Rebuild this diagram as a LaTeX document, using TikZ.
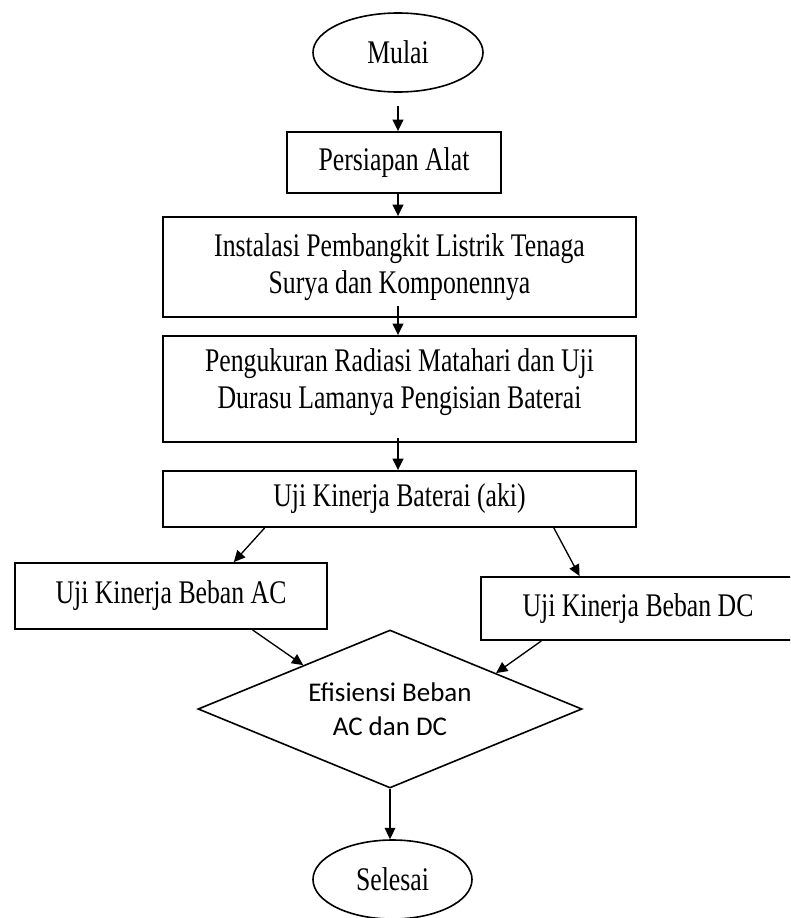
\documentclass[tikz,border=0pt]{standalone}
\usepackage{fontspec}
\setmainfont[FakeStretch=0.78]{Liberation Serif}
\newfontfamily\calfont{Carlito}
\usetikzlibrary{calc}
\usetikzlibrary{arrows.meta}
\usetikzlibrary{shapes.geometric}

\tikzset{
  kotak/.style={draw, line width=1.4pt, rectangle, inner sep=0pt, align=center,
    font=\fontsize{24.75}{27.75}\selectfont},
  oval/.style={draw, line width=1.2pt, ellipse, inner sep=0pt,
    font=\fontsize{24.75}{27.75}\selectfont},
  belah/.style={draw, line width=1.2pt, diamond, inner sep=0pt, aspect=2.43, align=center,
    font=\calfont\fontsize{20.25}{25.5}\selectfont},
  panah/.style={-{Triangle[length=8.5pt,width=8pt]}, line width=1pt},
}

\begin{document}
\begin{tikzpicture}[x=0.75pt,y=-0.75pt]
            \clip (0,0) rectangle (790,918);
            % langkah-langkah
            \node[oval, minimum width=127.5pt, minimum height=59.25pt] (mulai) at (398,52.5) {Mulai};
            \node[kotak, minimum width=160.5pt, minimum height=45.75pt] (persiapan) at (394,162.5) {Persiapan Alat};
            \node[kotak, minimum width=354.75pt, minimum height=75pt] (instalasi) at (399.5,267) {Instalasi Pembangkit Listrik Tenaga\\Surya dan Komponennya};
            \node[kotak, minimum width=354.75pt, minimum height=79.5pt, text depth=16pt] (pengukuran) at (399.5,389) {Pengukuran Radiasi Matahari dan Uji\\Durasu Lamanya Pengisian Baterai};
            \node[kotak, minimum width=354.75pt, minimum height=42pt] (baterai) at (399.5,499) {Uji Kinerja Baterai (aki)};
            \node[kotak, minimum width=234pt, minimum height=49.5pt] (ac) at (171,596) {Uji Kinerja Beban AC};
            \node[kotak, minimum width=235.5pt, minimum height=47.25pt] (dc) at (638,608.5) {Uji Kinerja Beban DC};
            \node[belah, minimum width=288pt, minimum height=118.5pt] (efisiensi) at (390,709) {Efisiensi Beban\\AC dan DC};
            \node[oval, minimum width=119.25pt, minimum height=59.25pt] (selesai) at (392.5,879.5) {Selesai};
            % panah
            \draw[panah, shorten <=9.75pt] (mulai.south) -- (mulai.south |- persiapan.north);
            \draw[panah] (persiapan.south -| mulai.south) -- (instalasi.north -| mulai.south);
            \draw[panah, shorten <=-9pt] (instalasi.south -| mulai.south) -- (pengukuran.north -| mulai.south);
            \draw[panah, shorten <=-3.75pt] (pengukuran.south -| mulai.south) -- (baterai.north -| mulai.south);
            \draw[panah] ($(baterai.south west)!0.216!(baterai.south east)$) -- ($(ac.north west)!0.70!(ac.north east)$);
            \draw[panah] ($(baterai.south west)!0.825!(baterai.south east)$) -- ($(dc.north west)!0.315!(dc.north east)$);
            \draw[panah] ($(ac.south west)!0.76!(ac.south east)$) -- ($(efisiensi.west)!0.55!(efisiensi.north)$);
            \draw[panah] ($(dc.south west)!0.194!(dc.south east)$) -- ($(efisiensi.north)!0.55!(efisiensi.east)$);
            \draw[panah] (efisiensi.south) -- (efisiensi.south |- selesai.north);
\end{tikzpicture}
\end{document}
